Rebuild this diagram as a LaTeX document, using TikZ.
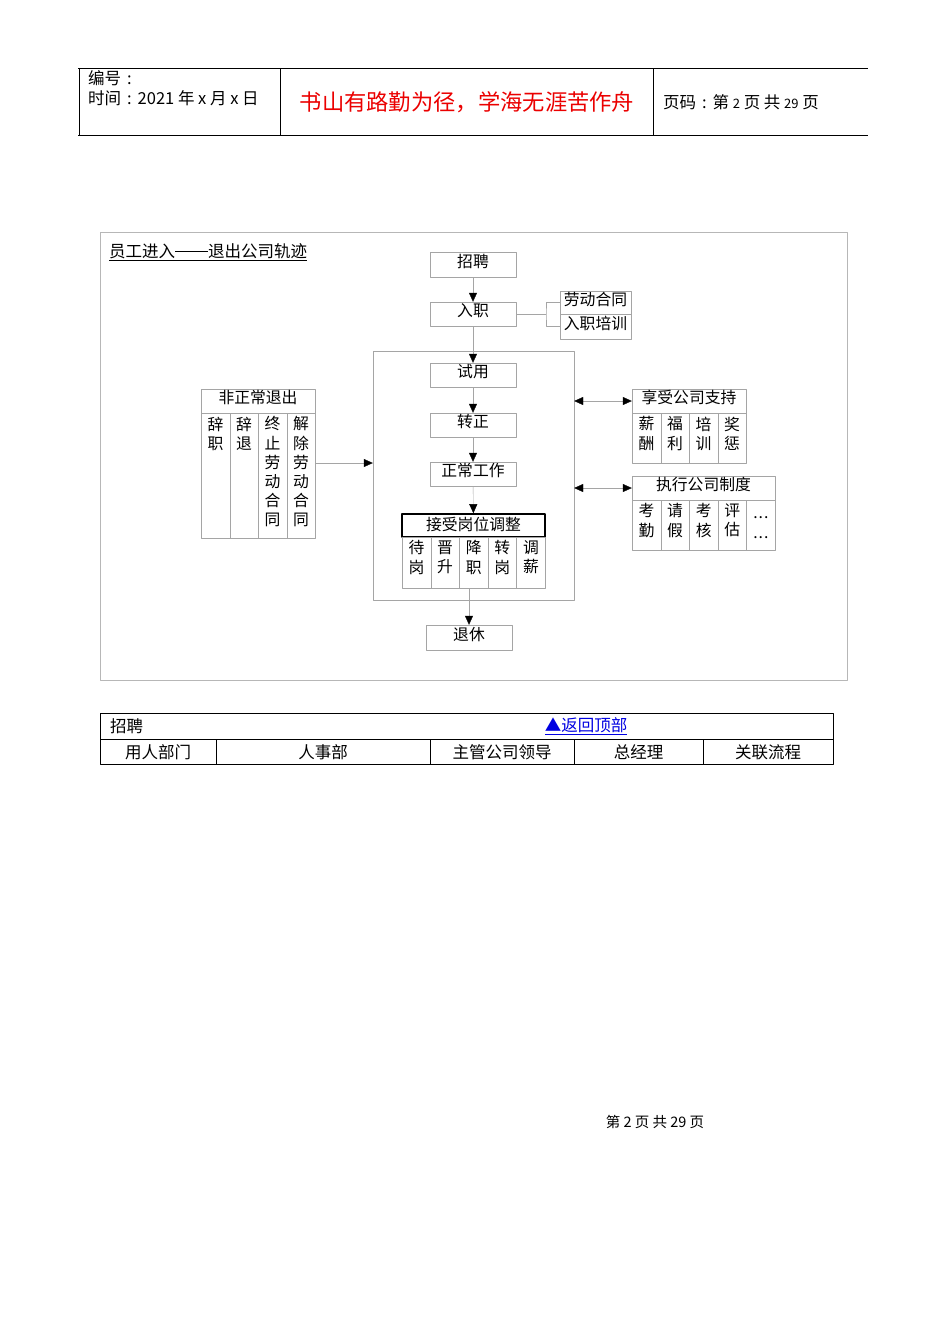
\documentclass[tikz,border=0pt]{standalone}
\usepackage{fontspec}
\setmainfont{Noto Sans CJK SC}
\usetikzlibrary{arrows.meta,positioning}
\definecolor{boxgray}{RGB}{165,165,165}
\definecolor{linkblue}{RGB}{0,0,225}
\definecolor{mottored}{RGB}{235,0,0}
\newcommand{\fwcolon}{\makebox[1em]{:}}
\newcommand{\celldots}{\vphantom{考}\raisebox{-2pt}{.\hspace{1pt}.\hspace{1pt}.}}
\begin{document}
\begin{tikzpicture}[x=1pt, y=-1pt, font=\fontsize{15.8}{19.2}\selectfont, line join=round,
  box/.style={draw=boxgray, minimum width=86, minimum height=24, inner sep=0, text height=12pt, text depth=6.5pt},
  cell/.style={draw=boxgray, minimum width=28.6, inner sep=0, anchor=north west},
  vtext/.style={anchor=north, align=center, inner sep=0, yshift=-3.5},
  link/.style={draw=boxgray},
  arr/.style={draw=boxgray, -{Triangle[width=8pt,length=9pt,color=black]}},
  darr/.style={draw=boxgray, {Triangle[width=8pt,length=9pt,color=black]}-{Triangle[width=8pt,length=9pt,color=black]}},
  tabtext/.style={font=\fontsize{16.5}{19}\selectfont}]
\useasboundingbox (0,0) rectangle (950,1344);
\fill[white] (0,0) rectangle (950,1344);
% page header
\draw (78,68) -- (868,68);
\draw (78,135) -- (868,135);
\foreach \x in {79,280,653} \draw (\x,68) -- (\x,135);
\node[tabtext, anchor=west, inner sep=0] (bh) at (88,78) {编号\fwcolon};
\node[tabtext, anchor=west, inner sep=0] (sj) at (88,98) {时间\fwcolon 2021 年 x 月 x 日};
\node[text=mottored, font=\fontsize{22.3}{25}\selectfont] (motto) at (467,102) {书山有路勤为径，学海无涯苦作舟};
\node[tabtext, anchor=west, inner sep=0] (ym) at (663,102) {页码\fwcolon 第 {\fontsize{13}{15}\selectfont 2} 页 共 {\fontsize{13}{15}\selectfont 29} 页};
% frame
\draw[draw=boxgray!80] (100,232) rectangle (847,680);
\node[anchor=west, inner sep=0, font=\fontsize{16.5}{19}\selectfont] (title) at (109,252) {\underline{员工进入\rule[5.8pt]{33pt}{0.9pt}退出公司轨迹}};
% main flow
\node[draw=boxgray, minimum width=201, minimum height=249, inner sep=0] (zone) at (473.5,475.5) {};
\node[box, minimum height=25] (zp) at (473,264.5) {招聘};
\node[box] (rz) at (473,314) {入职};
\node[box, minimum width=71, minimum height=23] (ldht) at (595.5,302.5) {劳动合同};
\node[box, minimum width=71, minimum height=25] (rzpx) at (595.5,326.5) {入职培训};
\node[box] (sy) at (473,375) {试用};
\node[box] (zz) at (473,425) {转正};
\node[box] (zc) at (473,474) {正常工作};
\node[box, draw=black, line width=1.6, minimum width=143, minimum height=23, text height=13pt, text depth=3pt] (tz) at (473.5,525.5) {接受岗位调整};
\foreach \t [count=\i] in {{待\\岗},{晋\\升},{降\\职},{转\\岗},{调\\薪}}{
  \node[cell, minimum height=51] (tz\i) at (402+28.6*\i-28.6,537) {};
  \node[vtext] (tzt\i) at (tz\i.north) {\t};
}
\node[box, minimum height=25] (tx) at (469,637.5) {退休};
% side boxes
\node[box, minimum width=114] (fz) at (258,401) {非正常退出};
\foreach \t [count=\i] in {{辞\\职},{辞\\退},{终\\止\\劳\\动\\合\\同},{解\\除\\劳\\动\\合\\同}}{
  \node[cell, minimum width=28.5, minimum height=125] (fz\i) at (201+28.5*\i-28.5,413) {};
  \node[vtext] (fzt\i) at (fz\i.north) {\t};
}
\node[box, minimum width=114] (xs) at (689,401) {享受公司支持};
\foreach \t [count=\i] in {{薪\\酬},{福\\利},{培\\训},{奖\\惩}}{
  \node[cell, minimum width=28.5, minimum height=50] (xs\i) at (632+28.5*\i-28.5,413) {};
  \node[vtext] (xst\i) at (xs\i.north) {\t};
}
\node[box, minimum width=143] (zx) at (703.5,488) {执行公司制度};
\foreach \t [count=\i] in {{考\\勤},{请\\假},{考\\核},{评\\估},{\celldots\\\celldots}}{
  \node[cell, minimum height=50] (zx\i) at (632+28.6*\i-28.6,500) {};
  \node[vtext] (zxt\i) at (zx\i.north) {\t};
}
% connectors
\draw[arr] (zp) -- (rz);
\draw[arr] (rz) -- (sy);
\draw[arr] (sy) -- (zz);
\draw[arr] (zz) -- (zc);
\draw[arr] (zc) -- (tz);
\draw[arr] (tx.north |- tz3.south) -- (tx.north);
\coordinate (br) at (546,314);
\draw[link] (rz.east) -- (br);
\draw[link] (ldht.west) -| (br) |- (rzpx.west);
\draw[arr] (fz4.east |- 0,463) -- (zone.west |- 0,463);
\draw[darr] (zone.east |- xs.center) -- (xs.west);
\draw[darr] (zone.east |- zx.center) -- (zx.west);
% table
\draw (100,713) rectangle (833,764);
\draw (100,739) -- (833,739);
\foreach \x in {216,430,574,703} \draw (\x,739) -- (\x,764);
\node[tabtext, anchor=west, inner sep=0] (zpt) at (110,726) {招聘};
\node[tabtext, text=linkblue] (back) at (586,726) {\underline{▲返回顶部}};
\foreach \t/\x [count=\i] in {用人部门/158, 人事部/323, 主管公司领导/502, 总经理/638.5, 关联流程/768}
  \node[tabtext] (col\i) at (\x,752) {\t};
% footer
\node[font=\fontsize{14.5}{17}\selectfont] (foot) at (655,1122) {第 2 页 共 29 页};
\end{tikzpicture}
\end{document}
